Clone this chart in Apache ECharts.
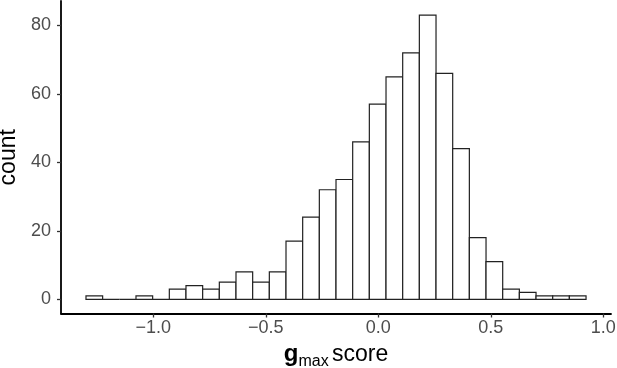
<!DOCTYPE html>
<html>
<head>
<meta charset="utf-8">
<script src="https://cdn.jsdelivr.net/npm/echarts@6/dist/echarts.min.js"></script>
<style>
  html, body { margin: 0; padding: 0; background: #fff; }
  #chart { width: 617px; height: 368px; }
</style>
</head>
<body>
<div id="chart"></div>
<script>
// histogram: 30 bins, left edge and width
var binStart = -1.299;
var binWidth = 0.07407;
var counts = [1, 0, 0, 1, 0, 3, 4, 3, 5, 8, 5, 8, 17, 24, 32, 35, 46, 57, 65, 72, 83, 66, 44, 18, 11, 3, 2, 1, 1, 1];
var xTicks = [-1, -0.5, 0, 0.5, 1];
var yTicks = [0, 20, 40, 60, 80];

var bins = counts.map(function (c, i) {
  var lo = binStart + i * binWidth;
  return [lo, lo + binWidth, c];
});

var chart = echarts.init(document.getElementById("chart"));
var font = "Liberation Sans, Arial, sans-serif";

var option = {
  animation: false,
  grid: { left: 61, right: 6, top: 1, bottom: 54.5, containLabel: false, outerBoundsMode: "none" },
  xAxis: {
    type: "value",
    min: -1.41,
    max: 1.034,
    splitLine: { show: false },
    axisLine: { onZero: false, lineStyle: { color: "#000", width: 1.8 } },
    axisTick: { customValues: xTicks, length: 4, lineStyle: { color: "#333", width: 1.3 } },
    axisLabel: {
      customValues: xTicks,
      margin: 6,
      color: "#4d4d4d",
      fontSize: 18,
      fontFamily: font,
      formatter: function (v) {
        return (v < 0 ? "\u2212" : "") + Math.abs(v).toFixed(1);
      }
    },
    name: "{b|g}{s|max} {n|score}",
    nameLocation: "middle",
    nameGap: 28,
    nameTextStyle: {
      rich: {
        b: { fontSize: 24, fontWeight: "bold", fontFamily: font, color: "#000", verticalAlign: "bottom" },
        s: { fontSize: 16, fontFamily: font, color: "#000", verticalAlign: "bottom", padding: [0, 0, -3, 0] },
        n: { fontSize: 23, fontFamily: font, color: "#000", verticalAlign: "bottom" }
      }
    }
  },
  yAxis: {
    type: "value",
    min: -4.15,
    max: 87.15,
    splitLine: { show: false },
    axisLine: { show: true, onZero: false, lineStyle: { color: "#000", width: 1.8 } },
    axisTick: { show: true, customValues: yTicks, length: 4, lineStyle: { color: "#333", width: 1.3 } },
    axisLabel: {
      customValues: yTicks,
      margin: 10,
      color: "#4d4d4d",
      fontSize: 18,
      fontFamily: font
    },
    name: "count",
    nameLocation: "middle",
    nameGap: 38,
    nameTextStyle: { fontSize: 23, fontFamily: font, color: "#000" }
  },
  series: [
    {
      type: "custom",
      data: bins,
      encode: { x: [0, 1], y: 2 },
      renderItem: function (params, api) {
        var top = api.coord([api.value(0), api.value(2)]);
        var bottom = api.coord([api.value(1), 0]);
        return {
          type: "rect",
          shape: { x: top[0], y: top[1], width: bottom[0] - top[0], height: bottom[1] - top[1] },
          style: { fill: "#fff", stroke: "#222", lineWidth: 1.2 }
        };
      }
    }
  ]
};
chart.setOption(option);

window.addEventListener("resize", function () {
  chart.resize();
});
</script>
</body>
</html>
